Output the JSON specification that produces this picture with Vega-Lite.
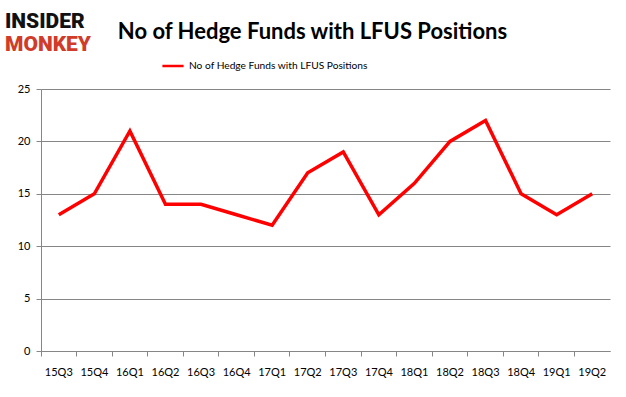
{
  "$schema": "https://vega.github.io/schema/vega-lite/v6.json",
  "width": 569,
  "height": 262,
  "autosize": {"type": "none"},
  "padding": {"left": 41, "top": 89, "right": 16, "bottom": 46},
  "background": "white",
  "config": {
    "view": {"stroke": null},
    "font": "Lato"
  },
  "title": {
    "text": "No of Hedge Funds with LFUS Positions",
    "font": "Lato",
    "fontSize": 22,
    "fontWeight": "bold",
    "color": "#000000",
    "anchor": "middle",
    "dx": -13,
    "dy": 33,
    "offset": 0
  },
  "data": {
    "values": [
      {"q": "15Q3", "funds": 13, "series": "No of Hedge Funds with LFUS Positions"},
      {"q": "15Q4", "funds": 15, "series": "No of Hedge Funds with LFUS Positions"},
      {"q": "16Q1", "funds": 21, "series": "No of Hedge Funds with LFUS Positions"},
      {"q": "16Q2", "funds": 14, "series": "No of Hedge Funds with LFUS Positions"},
      {"q": "16Q3", "funds": 14, "series": "No of Hedge Funds with LFUS Positions"},
      {"q": "16Q4", "funds": 13, "series": "No of Hedge Funds with LFUS Positions"},
      {"q": "17Q1", "funds": 12, "series": "No of Hedge Funds with LFUS Positions"},
      {"q": "17Q2", "funds": 17, "series": "No of Hedge Funds with LFUS Positions"},
      {"q": "17Q3", "funds": 19, "series": "No of Hedge Funds with LFUS Positions"},
      {"q": "17Q4", "funds": 13, "series": "No of Hedge Funds with LFUS Positions"},
      {"q": "18Q1", "funds": 16, "series": "No of Hedge Funds with LFUS Positions"},
      {"q": "18Q2", "funds": 20, "series": "No of Hedge Funds with LFUS Positions"},
      {"q": "18Q3", "funds": 22, "series": "No of Hedge Funds with LFUS Positions"},
      {"q": "18Q4", "funds": 15, "series": "No of Hedge Funds with LFUS Positions"},
      {"q": "19Q1", "funds": 13, "series": "No of Hedge Funds with LFUS Positions"},
      {"q": "19Q2", "funds": 15, "series": "No of Hedge Funds with LFUS Positions"}
    ]
  },
  "layer": [
    {
      "mark": {"type": "line", "strokeWidth": 3.5, "strokeJoin": "miter"},
      "encoding": {
        "x": {
          "field": "q",
          "type": "ordinal",
          "sort": null,
          "scale": {"type": "band", "paddingInner": 0, "paddingOuter": 0},
          "axis": {
            "title": null,
            "labelAngle": 0,
            "bandPosition": 0,
            "tickSize": 5,
            "tickColor": "#868686",
            "domainColor": "#868686",
            "labelPadding": 10,
            "labelFontSize": 11,
            "labelColor": "#000000",
            "labelFont": "Lato",
            "grid": false
          }
        },
        "y": {
          "field": "funds",
          "type": "quantitative",
          "scale": {"domain": [0, 25], "nice": false},
          "axis": {
            "title": null,
            "values": [0, 5, 10, 15, 20, 25],
            "tickSize": 5,
            "tickColor": "#868686",
            "domainColor": "#868686",
            "gridColor": "#868686",
            "labelPadding": 6,
            "labelFontSize": 11,
            "labelColor": "#000000",
            "labelFont": "Lato"
          }
        },
        "color": {
          "field": "series",
          "type": "nominal",
          "scale": {"range": ["#FF0000"]},
          "legend": {
            "title": null,
            "orient": "none",
            "legendX": 120,
            "legendY": -35,
            "symbolType": "stroke",
            "symbolStrokeWidth": 2.5,
            "symbolSize": 450,
            "labelFontSize": 10.2,
            "labelLimit": 400,
            "labelFont": "Lato",
            "labelColor": "#000000"
          }
        }
      }
    },
    {
      "data": {"values": [{"t": "INSIDER"}]},
      "mark": {"type": "text", "align": "left", "baseline": "alphabetic", "font": "Roboto", "fontWeight": 900, "fontSize": 21, "color": "#111111"},
      "encoding": {
        "text": {"field": "t"},
        "x": {"value": -36},
        "y": {"value": -61}
      }
    },
    {
      "data": {"values": [{"t": "MONKEY"}]},
      "mark": {"type": "text", "align": "left", "baseline": "alphabetic", "font": "Roboto", "fontWeight": 900, "fontSize": 21, "color": "#D13B2A"},
      "encoding": {
        "text": {"field": "t"},
        "x": {"value": -36},
        "y": {"value": -38}
      }
    }
  ]
}
